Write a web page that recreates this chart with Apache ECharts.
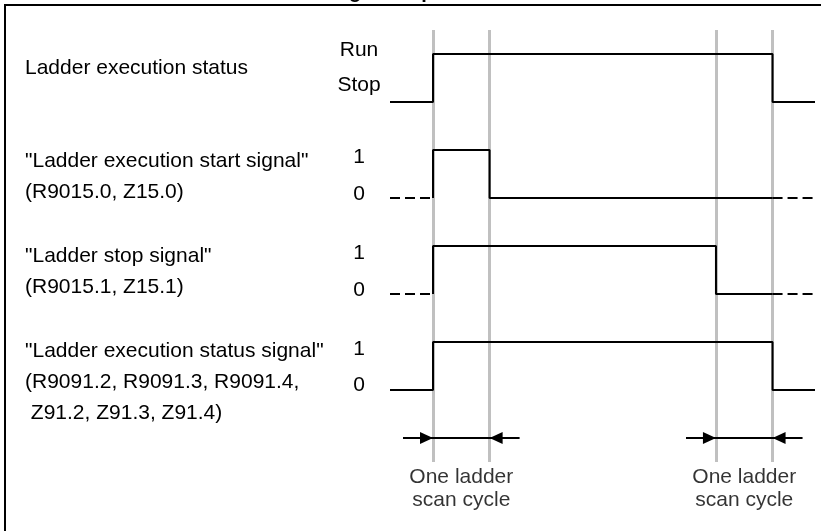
<!DOCTYPE html>
<html>
<head>
<meta charset="utf-8">
<script src="https://cdn.jsdelivr.net/npm/echarts@6/dist/echarts.min.js"></script>
<style>
html, body { margin: 0; padding: 0; background: #fff; }
#main { width: 821px; height: 531px; }
</style>
</head>
<body>
<div id="main"></div>
<script>
// time axis: 1 unit = one ladder scan cycle
const timeRange = [-0.76, 6.75]
const cycleMarks = [0, 1, 5, 6] // start, +1 scan, stop request, stopped

// [time, level] steps, level is held until the next step
const runStatus = [[-0.76, 0], [0, 1], [6, 0], [6.75, 0]]
const startSignal = [[0, 0], [0, 1], [1, 0], [6, 0]]
const stopSignal = [[0, 0], [0, 1], [5, 0], [6, 0]]
const execStatus = [[-0.76, 0], [0, 1], [6, 0], [6.75, 0]]
// undefined state (dashed) before start and after stop
const unknownSpans = [[-0.76, 0], [6, 6.75]]

// lane offsets on the y axis (low level of each lane)
const laneBase = [0, -2, -4, -6]

const signalLabels = [
  ['Ladder execution status'],
  ['"Ladder execution start signal"', '(R9015.0, Z15.0)'],
  ['"Ladder stop signal"', '(R9015.1, Z15.1)'],
  ['"Ladder execution status signal"', '(R9091.2, R9091.3, R9091.4,', ' Z91.2, Z91.3, Z91.4)']
]
const levelLabels = [['Run', 'Stop'], ['1', '0'], ['1', '0'], ['1', '0']]
const cycleSpans = [[0, 1], [5, 6]]
const cycleCaption = 'One ladder\nscan cycle'

const FONT = '"Liberation Sans", Arial, sans-serif'
const chart = echarts.init(document.getElementById('main'))

function lane(data, k) {
  return data.map(p => [p[0], p[1] + laneBase[k]])
}

function stepLine(data, k) {
  return {
    type: 'line',
    step: 'end',
    data: lane(data, k),
    symbol: 'none',
    z: 5,
    silent: true,
    lineStyle: { color: '#000', width: 2 }
  }
}

function dashed(k) {
  return unknownSpans.map(s => ({
    type: 'line',
    data: [[s[0], laneBase[k]], [s[1], laneBase[k]]],
    symbol: 'none',
    z: 5,
    silent: true,
    lineStyle: { color: '#000', width: 2, type: [10, 5] }
  }))
}

const arrowY = -7.0
const tail = 0.53
const headHalf = 0.115 // half the arrow head length, so the tip sits on the gray line
const arrowData = []
cycleSpans.forEach(s => {
  arrowData.push([{ coord: [s[0] - tail, arrowY], symbol: 'none' }, { coord: [s[0] - headHalf, arrowY], symbol: 'triangle' }])
  arrowData.push([{ coord: [s[1] + tail, arrowY], symbol: 'none' }, { coord: [s[1] + headHalf, arrowY], symbol: 'triangle' }])
  arrowData.push([{ coord: [s[0] - headHalf, arrowY], symbol: 'none' }, { coord: [s[1] + headHalf, arrowY], symbol: 'none' }])
})

// text on the left and level names
const graphics = [
  { type: 'line', shape: { x1: 5, y1: 5, x2: 821, y2: 5 }, style: { stroke: '#000', lineWidth: 2 } },
  { type: 'line', shape: { x1: 5, y1: 4, x2: 5, y2: 531 }, style: { stroke: '#000', lineWidth: 2 } },
  {
    type: 'text', z: -1,
    style: { text: 'Timing of stop', x: 296, y: -8, font: 'bold 20px ' + FONT, fill: '#000', align: 'left', verticalAlign: 'middle' }
  }
]
const labelTop = [68, 161, 256, 351]
signalLabels.forEach((lines, k) => {
  lines.forEach((t, i) => {
    graphics.push({
      type: 'text',
      style: { text: t, x: 25, y: labelTop[k] + i * 31, font: '21px ' + FONT, fill: '#000', align: 'left', verticalAlign: 'middle' }
    })
  })
})
const levelY = [[50, 85], [157, 194], [253, 290], [349, 385]]
levelLabels.forEach((pair, k) => {
  pair.forEach((t, i) => {
    graphics.push({
      type: 'text',
      style: { text: t, x: 359, y: levelY[k][i], font: '21px ' + FONT, fill: '#000', align: 'center', verticalAlign: 'middle' }
    })
  })
})

const option = {
  animation: false,
  backgroundColor: '#fff',
  grid: { left: 390, right: 6, top: 30, height: 432 },
  xAxis: { type: 'value', min: timeRange[0], max: timeRange[1], show: false },
  yAxis: { type: 'value', min: -7.5, max: 1.5, show: false },
  graphic: graphics,
  series: [
    {
      // gray scan-cycle boundaries
      type: 'line',
      data: [],
      z: 1,
      markLine: {
        silent: true,
        symbol: 'none',
        label: { show: false },
        lineStyle: { color: '#c0c0c0', width: 3, type: 'solid' },
        data: cycleMarks.map(t => ({ xAxis: t }))
      }
    },
    stepLine(runStatus, 0),
    stepLine(startSignal, 1),
    ...dashed(1),
    stepLine(stopSignal, 2),
    ...dashed(2),
    stepLine(execStatus, 3),
    {
      type: 'line',
      data: [],
      z: 6,
      markLine: {
        silent: true,
        symbolSize: [12, 13],
        label: { show: false },
        lineStyle: { color: '#000', width: 2, type: 'solid' },
        itemStyle: { color: '#000' },
        data: arrowData
      }
    },
    {
      type: 'scatter',
      clip: false,
      silent: true,
      symbolSize: 0,
      data: cycleSpans.map(s => [(s[0] + s[1]) / 2, -8.05]),
      label: {
        show: true,
        position: 'inside',
        formatter: cycleCaption,
        color: '#000',
        fontFamily: FONT,
        fontSize: 21,
        lineHeight: 23
      }
    }
  ]
}

chart.setOption(option)
</script>
</body>
</html>
